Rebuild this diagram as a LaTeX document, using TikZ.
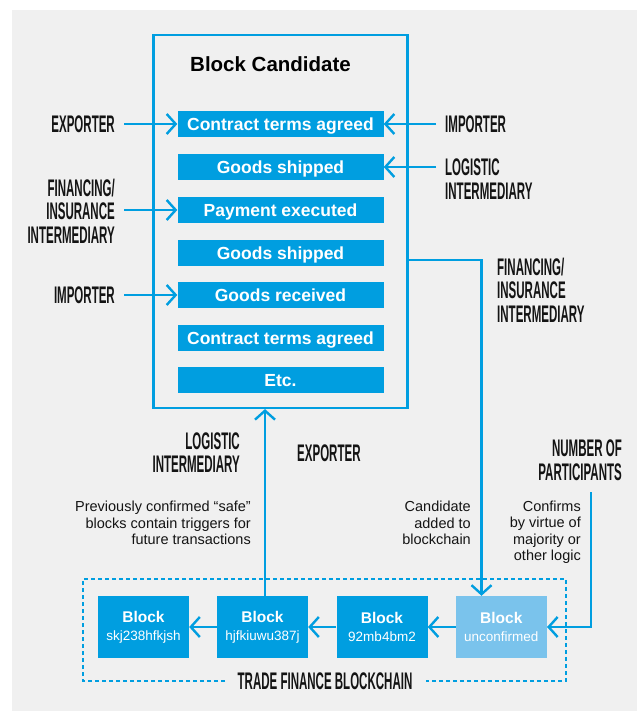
\documentclass[tikz,border=0pt]{standalone}
\usepackage{fontspec}
\setmainfont{Liberation Sans}
\newfontfamily\condf[FakeStretch=0.48]{Liberation Sans}
\usetikzlibrary{arrows.meta}
\definecolor{tfblue}{RGB}{0,158,224}
\definecolor{tflight}{RGB}{122,195,236}
\definecolor{tfbg}{RGB}{240,240,240}
\definecolor{tfink}{RGB}{20,20,20}
\begin{document}
\begin{tikzpicture}[x=1pt,y=-1pt,
  cond/.style={font=\condf\bfseries\fontsize{24}{23.5}\selectfont, inner sep=0pt, text=tfink},
  body/.style={font=\fontsize{14.5}{16.5}\selectfont, inner sep=0pt, align=right, text=tfink},
  bar/.style={fill=tfblue, text=white, minimum width=206pt, minimum height=26pt, inner sep=0pt, text depth=0pt, text height=13pt, font=\bfseries\fontsize{17.5}{20}\selectfont},
  blk/.style={fill=tfblue, text=white, minimum width=91pt, minimum height=62pt, inner sep=0pt, align=center, font=\fontsize{13.5}{18}\selectfont},
  conn/.style={draw=tfblue, line width=2.4pt},
  arr/.style={conn, -{Straight Barb[length=9pt,width=20pt]}}
]
\useasboundingbox (0,0) rectangle (637,711);
\fill[tfbg] (12,10) rectangle (637,711);

% block candidate frame
\node[draw=tfblue, line width=2.5pt, minimum width=254pt, minimum height=373pt, inner sep=0pt] (box) at (280.3,221.3) {};
\node[anchor=west, inner sep=0pt, font=\bfseries\fontsize{20.5}{24}\selectfont] (title) at (190,64) {Block Candidate};

\node[bar] (bar1) at (280.5,124) {Contract terms agreed};
\node[bar] (bar2) at (280.5,167) {Goods shipped};
\node[bar] (bar3) at (280.5,210) {Payment executed};
\node[bar] (bar4) at (280.5,252.5) {Goods shipped};
\node[bar] (bar5) at (280.5,295) {Goods received};
\node[bar] (bar6) at (280.5,337.5) {Contract terms agreed};
\node[bar] (bar7) at (280.5,380) {Etc.};

% left labels
\node[cond, anchor=east] (lexp) at (115,124) {EXPORTER};
\node[cond, anchor=east, align=right] (lfin) at (115,211) {FINANCING/\\INSURANCE\\INTERMEDIARY};
\node[cond, anchor=east] (limp) at (115,295) {IMPORTER};
\coordinate (la) at (124,124);
\coordinate (lb) at (124,210);
\coordinate (lc) at (124,295);
\draw[arr] (la) -- (bar1.west);
\draw[arr] (lb) -- (bar3.west);
\draw[arr] (lc) -- (bar5.west);

% right labels
\node[cond, anchor=west] (rimp) at (445,124) {IMPORTER};
\node[cond, anchor=west, align=left] (rlog) at (445,179) {LOGISTIC\\INTERMEDIARY};
\coordinate (ra) at (436,124);
\coordinate (rb) at (436,167);
\draw[arr] (ra) -- (bar1.east);
\draw[arr] (rb) -- (bar2.east);

\node[cond, anchor=west, align=left] (rfin) at (497,290) {FINANCING/\\INSURANCE\\INTERMEDIARY};

% blockchain
\node[blk] (b1) at (143.5,627) {{\bfseries\fontsize{15.5}{18}\selectfont Block}\\skj238hfkjsh};
\node[blk] (b2) at (262.5,627) {{\bfseries\fontsize{15.5}{18}\selectfont Block}\\hjfkiuwu387j};
\node[blk] (b3) at (382,627) {{\bfseries\fontsize{15.5}{18}\selectfont Block}\\92mb4bm2};
\node[blk, fill=tflight] (b4) at (501.3,627) {{\bfseries\fontsize{15.5}{18}\selectfont Block}\\unconfirmed};
\draw[arr] (b4.west) -- (b3.east);
\draw[arr] (b3.west) -- (b2.east);
\draw[arr] (b2.west) -- (b1.east);

\node[cond] (tfb) at (325,681) {TRADE FINANCE BLOCKCHAIN};
\draw[tfblue, line width=1.3pt, dash pattern=on 4pt off 3pt]
  (225,681) -- (83,681) -- (83,579) -- (566,579) -- (566,681) -- (426,681);

% upward link from confirmed blocks
\coordinate (up) at (265,596);
\draw[arr] (up) -- (up |- box.south);
\node[cond, anchor=east, align=right] (blog) at (240,452.5) {LOGISTIC\\INTERMEDIARY};
\node[cond, anchor=west] (bexp) at (297,453) {EXPORTER};
\node[body, anchor=east] (prev) at (251,523) {Previously confirmed “safe”\\blocks contain triggers for\\future transactions};

% candidate link
\coordinate (ca) at (407.3,260);
\coordinate (cb) at (481.5,260);
\draw[arr] (ca) -- (cb) -- (cb |- b4.north);
\node[body, anchor=east] (cand) at (471,523) {Candidate\\added to\\blockchain};

% participants
\node[cond, anchor=east, align=right] (npart) at (622,460) {NUMBER OF\\PARTICIPANTS};
\coordinate (np) at (591,492);
\draw[arr] (np) |- (b4.east);
\node[body, anchor=east] (conf) at (581,532) {Confirms\\by virtue of\\majority or\\other logic};
\end{tikzpicture}
\end{document}
